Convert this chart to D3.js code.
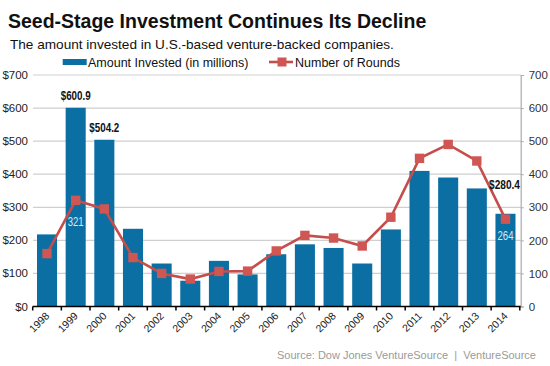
<!DOCTYPE html>
<html>
<head>
<meta charset="utf-8">
<script src="https://cdn.jsdelivr.net/npm/d3@7"></script>
<style>
  body { margin: 0; background: #fff; }
  svg text { font-family: "Liberation Sans", Arial, sans-serif; }
</style>
</head>
<body>
<svg id="chart" width="550" height="366"></svg>
<script>
// data
var years = ["1998","1999","2000","2001","2002","2003","2004","2005","2006",
             "2007","2008","2009","2010","2011","2012","2013","2014"];
var amount = [218, 600.9, 504.2, 235, 130, 78, 138, 97, 158,
              188, 177, 130, 233, 410, 390, 357, 280.4];
var rounds = [160, 321, 295, 148, 100, 83, 106, 107, 168,
              215, 207, 183, 270, 448, 490, 440, 264];
var leftTicks = [0, 100, 200, 300, 400, 500, 600, 700];

var blue = "#0b6fa3", red = "#c44e4b";

var svg = d3.select("#chart");

var x = d3.scaleBand().domain(years).range([32.7, 519.8])
    .paddingInner(0.3).paddingOuter(0.15);
var y = d3.scaleLinear().domain([0, 700]).range([306.5, 75]);

// titles
svg.append("text").attr("x", 8).attr("y", 28)
    .attr("font-size", 19.5).attr("font-weight", "bold").attr("fill", "#111")
    .text("Seed-Stage Investment Continues Its Decline");
svg.append("text").attr("x", 10).attr("y", 49)
    .attr("font-size", 13.6).attr("fill", "#111")
    .text("The amount invested in U.S.-based venture-backed companies.");

// gridlines
svg.append("g").selectAll("line")
    .data(leftTicks.slice(1)).enter().append("line")
    .attr("x1", 33).attr("x2", 520.7)
    .attr("y1", d => y(d)).attr("y2", d => y(d))
    .attr("stroke", "#cfcfcf").attr("stroke-width", 1.2);

// left axis labels
svg.append("g").selectAll("text")
    .data(leftTicks).enter().append("text")
    .attr("x", 28).attr("y", d => y(d) + 4)
    .attr("text-anchor", "end").attr("font-size", 11.5).attr("fill", "#222")
    .text(d => "$" + d);

// right axis
var yAxisR = d3.axisRight(y).tickValues(leftTicks).tickSize(3).tickPadding(5);
var gr = svg.append("g").attr("transform", "translate(520.7,0)").call(yAxisR);
gr.select(".domain").attr("stroke", "#aaa").attr("stroke-width", 1.2);
gr.selectAll(".tick line").attr("stroke", "#aaa");
gr.selectAll(".tick text").attr("font-size", 11.5).attr("fill", "#333")
    .attr("font-family", "Liberation Sans, Arial, sans-serif");

// bars
svg.append("g").selectAll("rect")
    .data(years).enter().append("rect")
    .attr("x", d => x(d))
    .attr("width", x.bandwidth())
    .attr("y", (d, i) => y(amount[i]))
    .attr("height", (d, i) => y(0) - y(amount[i]))
    .attr("fill", blue);

// bottom axis
var half = x.step() * x.paddingInner() / 2;
svg.append("line").attr("x1", 32.7).attr("x2", 520.7)
    .attr("y1", y(0)).attr("y2", y(0))
    .attr("stroke", "#000").attr("stroke-width", 1.5);
svg.append("g").selectAll("line")
    .data(years.concat(["end"])).enter().append("line")
    .attr("x1", (d, i) => i < years.length ? x(d) - half : x(years[i - 1]) + x.bandwidth() + half)
    .attr("x2", (d, i) => i < years.length ? x(d) - half : x(years[i - 1]) + x.bandwidth() + half)
    .attr("y1", y(0)).attr("y2", y(0) + 4)
    .attr("stroke", "#000").attr("stroke-width", 1.5);

svg.append("g").selectAll("text")
    .data(years).enter().append("text")
    .attr("transform", d => "translate(" + (x(d) + x.bandwidth() / 2 + 3) + "," + (y(0) + 10) + ") rotate(-45)")
    .attr("text-anchor", "end").attr("font-size", 10.5).attr("fill", "#222")
    .text(d => d);

// rounds line
var line = d3.line()
    .x(d => x(d) + x.bandwidth() / 2)
    .y((d, i) => y(rounds[i]));
svg.append("path").datum(years)
    .attr("d", line).attr("fill", "none")
    .attr("stroke", red).attr("stroke-width", 2.6);
svg.append("g").selectAll("rect")
    .data(years).enter().append("rect")
    .attr("x", d => x(d) + x.bandwidth() / 2 - 4.7)
    .attr("y", (d, i) => y(rounds[i]) - 4.7)
    .attr("width", 9.4).attr("height", 9.4)
    .attr("fill", "#cf5653");

// value labels (condensed bold)
var bold = [["1999", 600.9], ["2000", 504.2]];
svg.append("g").selectAll("text")
    .data(bold).enter().append("text")
    .attr("x", d => x(d[0]) + x.bandwidth() / 2 - 15)
    .attr("y", d => y(d[1]) - 8)
    .attr("font-size", 12).attr("font-weight", "bold")
    .attr("textLength", 30).attr("lengthAdjust", "spacingAndGlyphs")
    .attr("fill", "#111")
    .text(d => "$" + d[1]);
svg.append("text")
    .attr("x", 489).attr("y", y(280.4) - 25)
    .attr("font-size", 12).attr("font-weight", "bold")
    .attr("textLength", 31).attr("lengthAdjust", "spacingAndGlyphs")
    .attr("fill", "#111").text("$280.4");

svg.append("text")
    .attr("x", x("1999") + x.bandwidth() / 2 - 8).attr("y", y(321) + 26)
    .attr("font-size", 12)
    .attr("textLength", 16).attr("lengthAdjust", "spacingAndGlyphs")
    .attr("fill", "#d3e9f6").text("321");
svg.append("text")
    .attr("x", x("2014") + x.bandwidth() / 2 - 8).attr("y", y(264) + 21)
    .attr("font-size", 12)
    .attr("textLength", 16).attr("lengthAdjust", "spacingAndGlyphs")
    .attr("fill", "#d3e9f6").text("264");

// legend
svg.append("rect").attr("x", 62.7).attr("y", 59).attr("width", 24).attr("height", 6)
    .attr("fill", blue);
svg.append("text").attr("x", 88).attr("y", 66.5)
    .attr("font-size", 12.5).attr("fill", "#111").text("Amount Invested (in millions)");
svg.append("line").attr("x1", 269).attr("x2", 293).attr("y1", 62).attr("y2", 62)
    .attr("stroke", red).attr("stroke-width", 2.6);
svg.append("rect").attr("x", 277.5).attr("y", 57.5).attr("width", 9).attr("height", 9)
    .attr("fill", "#cf5653");
svg.append("text").attr("x", 295).attr("y", 66.5)
    .attr("font-size", 12.5).attr("fill", "#111").text("Number of Rounds");

// source
svg.append("text").attr("x", 536).attr("y", 359)
    .attr("text-anchor", "end").attr("font-size", 11).attr("fill", "#9a9a9a")
    .attr("xml:space", "preserve")
    .text("Source: Dow Jones VentureSource  |  VentureSource");
</script>
</body>
</html>
